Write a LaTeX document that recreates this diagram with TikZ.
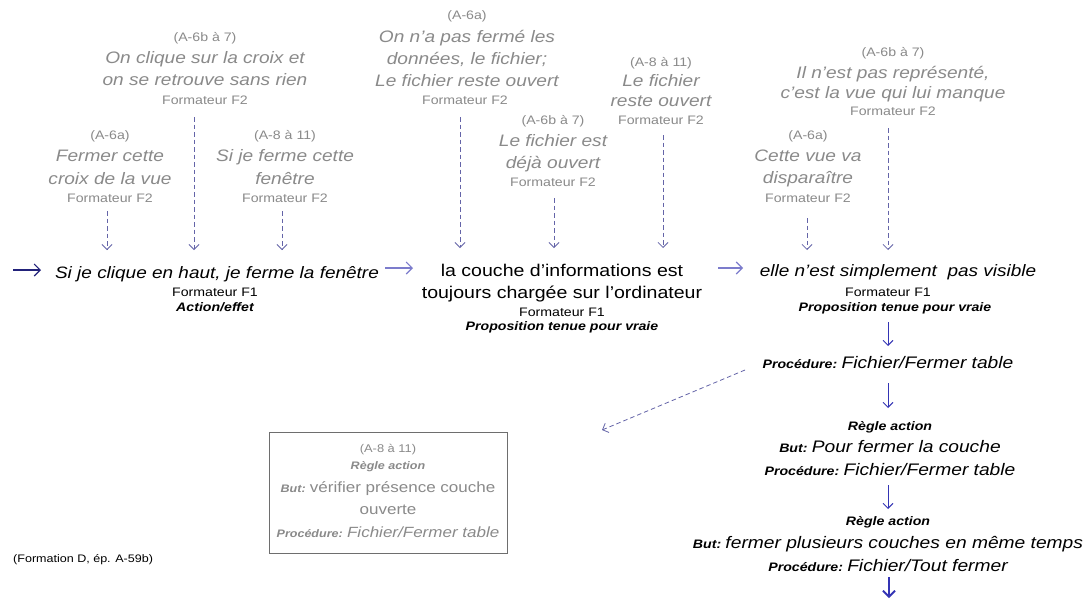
\documentclass[tikz,border=0pt]{standalone}
\usepackage{fontspec}
\setmainfont{Liberation Sans}[FakeStretch=1.15]
\usetikzlibrary{arrows.meta}
\definecolor{grayc}{HTML}{8A8A8A}
\definecolor{navy}{HTML}{22227A}
\definecolor{lav}{HTML}{7C7CCC}
\definecolor{dashc}{HTML}{6464A8}
\definecolor{blu}{HTML}{3434B4}
\definecolor{boxc}{HTML}{6E6E6E}
\newcommand\plab[1]{{\fontsize{12.3}{14}\selectfont\bfseries\itshape #1}}
\newcommand\plabs[1]{{\fontsize{10.9}{13}\selectfont\bfseries\itshape #1}}
\newcommand\bigit{\fontsize{16.7}{19}\selectfont\itshape}
\newcommand\boxit{\fontsize{14.8}{17}\selectfont\itshape}
\newcommand\boxup{\fontsize{14.8}{17}\selectfont\upshape}
\begin{document}
\begin{tikzpicture}[x=1pt,y=-1pt,
 every node/.style={inner sep=0pt, anchor=base},
 gsm/.style={font=\fontsize{12.3}{14}\selectfont, text=grayc},
 gsmb/.style={font=\fontsize{11.2}{13}\selectfont, text=grayc},
 gbig/.style={font=\fontsize{16.6}{19}\selectfont\itshape, text=grayc},
 gbi/.style={font=\fontsize{10.9}{13}\selectfont\bfseries\itshape, text=grayc},
 mit/.style={font=\fontsize{16.5}{19}\selectfont\itshape},
 mup/.style={font=\fontsize{17}{20}\selectfont},
 bsm/.style={font=\fontsize{12.3}{14}\selectfont},
 bbi/.style={font=\fontsize{12.3}{14}\selectfont\bfseries\itshape},
 darr/.style={dashc, line width=0.8pt, dash pattern=on 4.5pt off 3pt, -{Straight Barb[length=5pt,width=10pt]}},
 harr/.style={line width=1.1pt, -{Straight Barb[length=6pt,width=12pt]}},
 varr/.style={blu, line width=0.9pt, -{Straight Barb[length=5pt,width=10pt]}},
]
\useasboundingbox[fill=white] (0,0) rectangle (1087,598);

% ---- top-left groups
\node[gsm]  (tla) at (205,41.4) {(A-6b à 7)};
\node[gbig] (tlb) at (205,63) {On clique sur la croix et};
\node[gbig] (tlc) at (205,85) {on se retrouve sans rien};
\node[gsm]  (tld) at (205,104.4) {Formateur F2};

\node[gsm]  (la) at (110,139.4) {(A-6a)};
\node[gbig] (lb) at (110,161) {Fermer cette};
\node[gbig] (lc) at (110,184) {croix de la vue};
\node[gsm]  (ld) at (110,202.4) {Formateur F2};

\node[gsm]  (ra) at (285,139.4) {(A-8 à 11)};
\node[gbig] (rb) at (285,161) {Si je ferme cette};
\node[gbig] (rc) at (285,184) {fenêtre};
\node[gsm]  (rd) at (285,202.4) {Formateur F2};

\node[mit] (m1) at (217,278) {Si je clique en haut, je ferme la fenêtre};
\node[bsm] (m1f) at (215,296.4) {Formateur F1};
\node[bbi] (m1l) at (215,311.4) {Action/effet};

\coordinate (a1s) at (194,117);  \coordinate (a1e) at (194,250);
\coordinate (a2s) at (107,211);  \coordinate (a2e) at (107,250);
\coordinate (a3s) at (282,211);  \coordinate (a3e) at (282,250);
\draw[darr] (a1s) -- (a1e);
\draw[darr] (a2s) -- (a2e);
\draw[darr] (a3s) -- (a3e);

\coordinate (h0s) at (13,270); \coordinate (h0e) at (41,270);
\draw[harr, navy] (h0s) -- (h0e);
\coordinate (h1s) at (385,268); \coordinate (h1e) at (413,268);
\draw[harr, lav] (h1s) -- (h1e);

% ---- middle groups
\node[gsm]  (ma) at (467,19.4) {(A-6a)};
\node[gbig] (mb) at (467,42) {On n’a pas fermé les};
\node[gbig] (mc) at (467,64) {données, le fichier;};
\node[gbig] (md) at (467,86) {Le fichier reste ouvert};
\node[gsm]  (me) at (465,104.4) {Formateur F2};

\node[gsm]  (na) at (553,124.4) {(A-6b à 7)};
\node[gbig] (nb) at (553,146) {Le fichier est};
\node[gbig] (nc) at (553,168) {déjà ouvert};
\node[gsm]  (nd) at (553,186.4) {Formateur F2};

\node[gsm]  (oa) at (661,66.4) {(A-8 à 11)};
\node[gbig] (ob) at (661,86) {Le fichier};
\node[gbig] (oc) at (661,106) {reste ouvert};
\node[gsm]  (od) at (661,124.4) {Formateur F2};

\node[mup] (m2a) at (562,276) {la couche d’informations est};
\node[mup] (m2b) at (562,298) {toujours chargée sur l’ordinateur};
\node[bsm] (m2f) at (562,316.4) {Formateur F1};
\node[bbi] (m2l) at (562,330) {Proposition tenue pour vraie};

\coordinate (b1s) at (460,117); \coordinate (b1e) at (460,248);
\coordinate (b2s) at (554,198); \coordinate (b2e) at (554,248);
\coordinate (b3s) at (663,135); \coordinate (b3e) at (663,248);
\draw[darr] (b1s) -- (b1e);
\draw[darr] (b2s) -- (b2e);
\draw[darr] (b3s) -- (b3e);

\coordinate (h2s) at (718,268); \coordinate (h2e) at (743,268);
\draw[harr, lav] (h2s) -- (h2e);

% ---- right groups
\node[gsm]  (pa) at (893,56.4) {(A-6b à 7)};
\node[gbig] (pb) at (893,78) {Il n’est pas représenté,};
\node[gbig] (pc) at (893,98) {c’est la vue qui lui manque};
\node[gsm]  (pd) at (893,115.4) {Formateur F2};

\node[gsm]  (qa) at (808,139.4) {(A-6a)};
\node[gbig] (qb) at (808,161) {Cette vue va};
\node[gbig] (qc) at (808,183) {disparaître};
\node[gsm]  (qd) at (808,202.4) {Formateur F2};

\coordinate (c1s) at (888,128); \coordinate (c1e) at (888,250);
\coordinate (c2s) at (807,218); \coordinate (c2e) at (807,250);
\draw[darr] (c1s) -- (c1e);
\draw[darr] (c2s) -- (c2e);

\node[mit] (m3) at (898,276) {elle n’est simplement~ pas visible};
\node[bsm] (m3f) at (888,296.4) {Formateur F1};
\node[bbi] (m3l) at (895,311.4) {Proposition tenue pour vraie};

% ---- lower right chain
\node (p1) at (888,368) {\plab{Procédure:} {\bigit Fichier/Fermer table}};
\node[bbi] (r1) at (890,430.4) {Règle action};
\node (r1b) at (890,452) {\plab{But:} {\bigit Pour fermer la couche}};
\node (r1c) at (890,475) {\plab{Procédure:} {\bigit Fichier/Fermer table}};
\node[bbi] (r2) at (888,525.4) {Règle action};
\node (r2b) at (888,548) {\plab{But:} {\bigit fermer plusieurs couches en même temps}};
\node (r2c) at (888,571) {\plab{Procédure:} {\bigit Fichier/Tout fermer}};

\coordinate (v1s) at (888,322); \coordinate (v1e) at (888,346);
\coordinate (v2s) at (888,383); \coordinate (v2e) at (888,408);
\coordinate (v3s) at (888,485); \coordinate (v3e) at (888,509);
\coordinate (v4s) at (889,577); \coordinate (v4e) at (889,598);
\draw[varr] (v1s) -- (v1e);
\draw[varr] (v2s) -- (v2e);
\draw[varr] (v3s) -- (v3e);
\draw[blu, line width=1.8pt, -{Straight Barb[length=6pt,width=12pt]}] (v4s) -- (v4e);

% ---- grey box
\node[draw=boxc, line width=1pt, anchor=center, minimum width=238pt, minimum height=121pt] (bx) at (388,492.5) {};
\node[gsmb] (xa) at (388,452.4) {(A-8 à 11)};
\node[gbi] (xb) at (388,469) {Règle action};
\node[text=grayc] (xc) at (388,492) {\plabs{But:} {\boxup vérifier présence couche}};
\node[text=grayc, font=\boxup] (xd) at (388,514) {ouverte};
\node[text=grayc] (xe) at (388,537) {\plabs{Procédure:} {\boxit Fichier/Fermer table}};

\coordinate (ds) at (745,370); \coordinate (de) at (602,430);
\draw[darr] (ds) -- (de);

\node[font=\fontsize{10.9}{13}\selectfont, anchor=base west] (src) at (13,562) {(Formation D, ép. A-59b)};
\end{tikzpicture}
\end{document}
